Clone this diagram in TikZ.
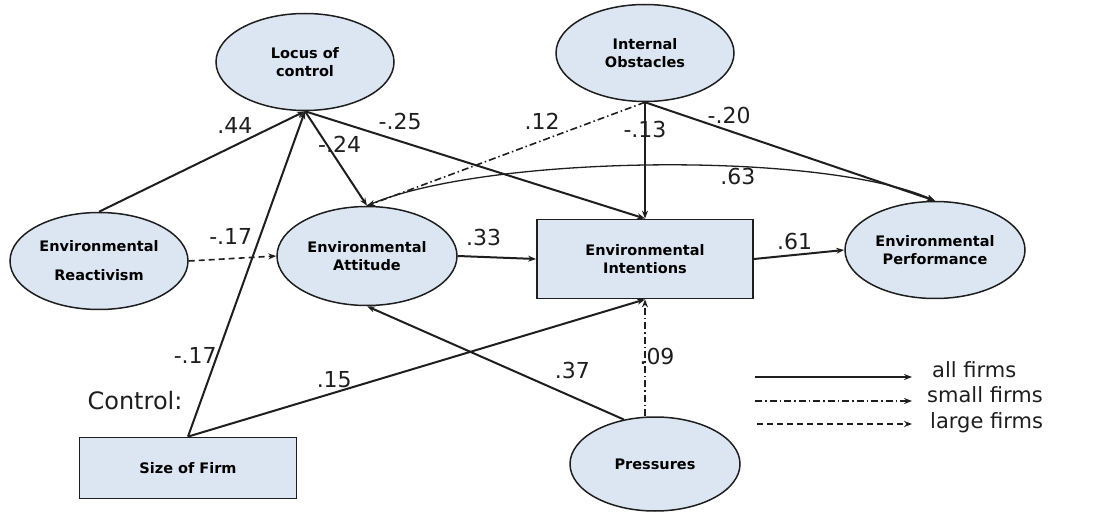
\documentclass[tikz,border=0pt]{standalone}
\usepackage{fontspec}
\setmainfont{DejaVu Sans}
\usepackage{xcolor}
\usepackage{tikz}
\usetikzlibrary{arrows.meta,shapes.geometric}
\definecolor{boxfill}{HTML}{DCE6F2}
\definecolor{inkgray}{HTML}{1E1E1E}
\tikzset{
  construct/.style={ellipse,draw=inkgray,line width=1.5pt,fill=boxfill,inner sep=0pt,
    minimum width=178pt,minimum height=97pt,align=center,text=black,
    font=\fontsize{14.5}{18}\selectfont\bfseries},
  measure/.style={rectangle,draw=inkgray,line width=1.8pt,fill=boxfill,inner sep=0pt,
    align=center,text=black,font=\fontsize{14.5}{18}\selectfont\bfseries},
  coef/.style={font=\fontsize{22}{24}\selectfont,text=inkgray,inner sep=0pt},
  legtext/.style={font=\fontsize{21}{23}\selectfont,text=inkgray,inner sep=0pt,anchor=west},
  allfirms/.style={-{Stealth[length=8pt,width=6pt]},line width=2pt,draw=inkgray},
  smallfirms/.style={allfirms,line width=1.6pt,dash pattern=on 7pt off 3pt on 1.5pt off 3pt},
  largefirms/.style={allfirms,line width=1.6pt,dash pattern=on 6pt off 4pt},
  paths/.style={every edge/.style={draw,allfirms}},
  model/.style={x=1pt,y=-1pt}
}

\begin{document}
\begin{tikzpicture}[model]
  \useasboundingbox (0,0) rectangle (1096,513);
  % constructs
  \node[construct] (locus) at (305,62) {Locus of\\control};
  \node[construct] (obst) at (645,53) {Internal\\Obstacles};
  \node[construct] (react) at (99,261) {Environmental\\[11pt]Reactivism};
  \node[construct,minimum width=180pt,minimum height=99pt] (attit) at (367,256) {Environmental\\Attitude};
  \node[measure,minimum width=216pt,minimum height=79pt] (intent) at (645,259) {Environmental\\Intentions};
  \node[construct,minimum width=180pt] (perf) at (935,250) {Environmental\\Performance};
  \node[measure,minimum width=217pt,minimum height=61pt] (size) at (188,468) {Size of Firm};
  \node[construct,minimum width=170pt,minimum height=94pt] (press) at (655,464) {Pressures};
  \node[font=\fontsize{24}{26}\selectfont,text=inkgray,inner sep=0pt] (ctrl) at (135,401) {Control:};

  % paths
  \path[paths]
  (react.north) edge node[coef,pos=.66,yshift=20pt] {.44} (locus.south)
  (size.north) edge node[coef,pos=.25,xshift=-22pt] {-.17} (locus.south)
  (locus.south) edge node[coef,pos=.35,xshift=13pt] {-.24} (attit.north)
  (locus.south) edge node[coef,pos=.28,yshift=20pt] {-.25} (intent.north)
  (obst.south) edge[smallfirms] node[coef,pos=.37,yshift=19pt] {.12} (attit.north)
  (obst.south) edge node[coef,pos=.23] {-.13} (intent.north)
  (obst.south) edge node[coef,pos=.29,yshift=15pt] {-.20} (perf.north)
  (react.east) edge[largefirms] node[coef,pos=.48,yshift=22pt] {-.17} (attit.west)
  (attit.east) edge node[coef,pos=.33,yshift=19pt] {.33} (intent.west)
  (intent.east) edge node[coef,pos=.45,yshift=13pt] {.61} (perf.west)
  (size.north) edge node[coef,pos=.32,yshift=13pt] {.15} (intent.south)
  (press.125) edge node[coef,pos=.2,yshift=26pt] {.37} (attit.south)
  ([xshift=-10pt]press.north) edge[smallfirms] node[coef,pos=.51,xshift=12pt] {.09} (intent.south)
  ;
  \draw[allfirms,line width=1.3pt] (attit.north) .. controls (480,155) and (820,150) .. (perf.north)
    node[coef,pos=.63,yshift=-10pt] {.63};

  % legend
  \coordinate (lgalla) at (755,377);
  \coordinate (lgallb) at (912,377);
  \coordinate (lgsmalla) at (755,401);
  \coordinate (lgsmallb) at (912,401);
  \coordinate (lglargea) at (757,424);
  \coordinate (lglargeb) at (912,424);
  \draw[allfirms] (lgalla) -- (lgallb);
  \draw[smallfirms] (lgsmalla) -- (lgsmallb);
  \draw[largefirms] (lglargea) -- (lglargeb);
  \node[legtext] (lgall) at (932,370) {all firms};
  \node[legtext] (lgsmall) at (927,395) {small firms};
  \node[legtext] (lglarge) at (930,423) {large firms};
\end{tikzpicture}
\end{document}
